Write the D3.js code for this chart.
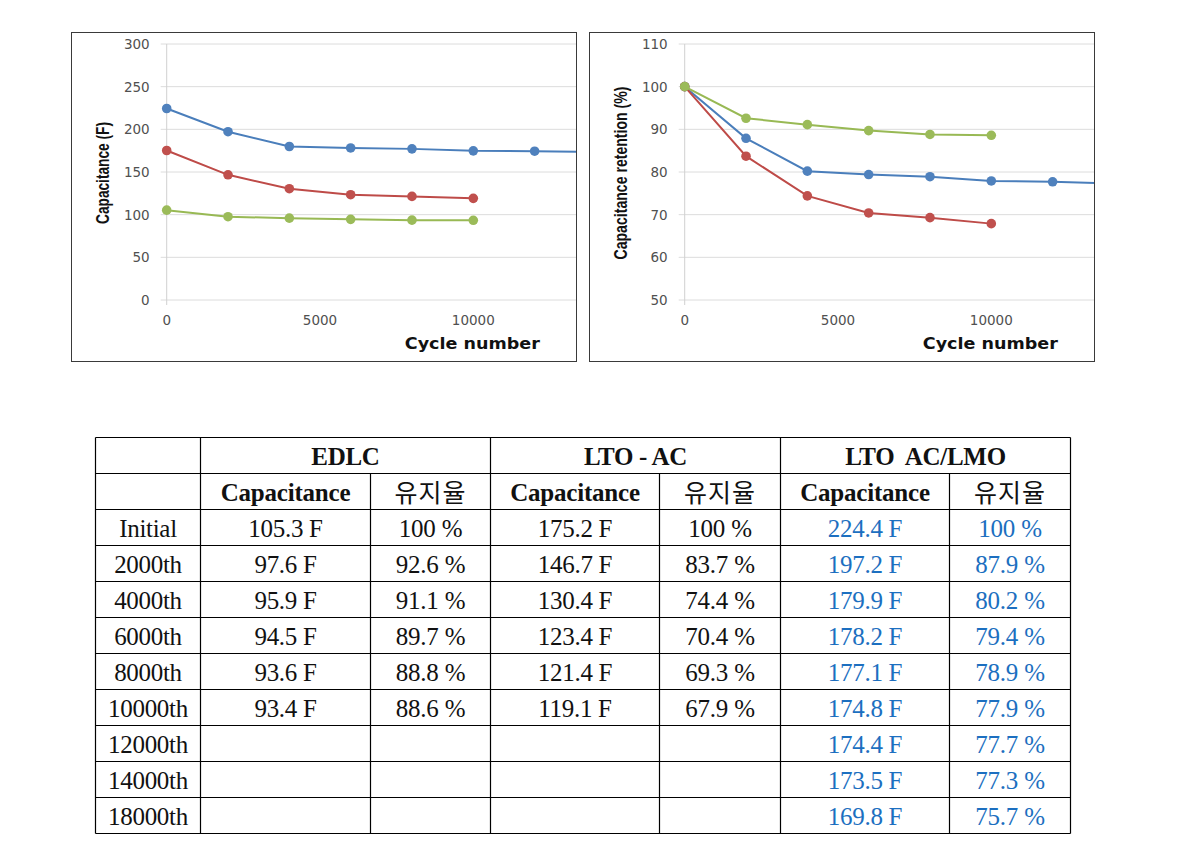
<!DOCTYPE html>
<html>
<head>
<meta charset="utf-8">
<script src="https://cdn.jsdelivr.net/npm/d3@7"></script>
<style>
  html, body { margin: 0; padding: 0; background: #ffffff; }
  svg { display: block; }
</style>
</head>
<body>
<svg id="root" width="1202" height="864"></svg>
<script>
// ---------------- DATA ----------------
const cycles = [0, 2000, 4000, 6000, 8000, 10000, 12000, 14000, 18000];
const rowLabels = ["Initial", "2000th", "4000th", "6000th", "8000th", "10000th", "12000th", "14000th", "18000th"];
const seriesNames = ["EDLC", "LTO - AC", "LTO  AC/LMO"];
const edlcCap = [105.3, 97.6, 95.9, 94.5, 93.6, 93.4];
const edlcRet = [100, 92.6, 91.1, 89.7, 88.8, 88.6];
const ltoCap = [175.2, 146.7, 130.4, 123.4, 121.4, 119.1];
const ltoRet = [100, 83.7, 74.4, 70.4, 69.3, 67.9];
const lmoCap = [224.4, 197.2, 179.9, 178.2, 177.1, 174.8, 174.4, 173.5, 169.8];
const lmoRet = [100, 87.9, 80.2, 79.4, 78.9, 77.9, 77.7, 77.3, 75.7];
const xTicks = [0, 5000, 10000];
const capTicks = [0, 50, 100, 150, 200, 250, 300];
const retTicks = [50, 60, 70, 80, 90, 100, 110];
const subHeaders = ["Capacitance", "유지율"];

const colors = {
  edlc: { line: "#98b954", mark: "#9bbb59" },
  lto: { line: "#be4b48", mark: "#c0504d" },
  lmo: { line: "#4a7ebb", mark: "#4f81bd" }
};

const svg = d3.select("#root");

// ---------------- CHARTS ----------------
function drawChart(opts) {
  const g = svg.append("g");
  const fx = opts.frame;
  const clipId = "clip" + opts.id;
  svg.append("defs").append("clipPath").attr("id", clipId)
    .append("rect").attr("x", fx.x0).attr("y", fx.y0).attr("width", fx.x1 - fx.x0).attr("height", fx.y1 - fx.y0);

  const x = d3.scaleLinear().domain([0, 10000]).range([opts.x0, opts.x0 + 306.6]);
  const y = d3.scaleLinear().domain(opts.yDomain).range([300, 44]);

  // gridlines
  const grid = g.append("g").attr("clip-path", `url(#${clipId})`);
  grid.selectAll("line.h").data(opts.yTicks).enter().append("line")
    .attr("x1", opts.x0 - 6).attr("x2", fx.x1)
    .attr("y1", d => y(d)).attr("y2", d => y(d))
    .attr("stroke", "#dcdcdc").attr("stroke-width", 1);
  grid.append("line")
    .attr("x1", x(0)).attr("x2", x(0)).attr("y1", y(opts.yDomain[1])).attr("y2", y(opts.yDomain[0]) + 5)
    .attr("stroke", "#d0d0d0").attr("stroke-width", 1);

  // y tick labels
  g.selectAll("text.yt").data(opts.yTicks).enter().append("text")
    .attr("x", x(0) - 17).attr("y", d => y(d))
    .attr("dy", "0.36em").attr("text-anchor", "end")
    .attr("font-family", "DejaVu Sans").attr("font-size", 13.5).attr("fill", "#505050")
    .text(d => d);
  // x tick labels
  g.selectAll("text.xt").data(xTicks).enter().append("text")
    .attr("x", d => x(d)).attr("y", 320)
    .attr("dy", "0.36em").attr("text-anchor", "middle")
    .attr("font-family", "DejaVu Sans").attr("font-size", 13.5).attr("fill", "#505050")
    .text(d => d);

  // axis titles
  g.append("text").attr("x", x(10000) - 1).attr("y", 343).attr("dy", "0.36em")
    .attr("text-anchor", "middle").attr("font-family", "DejaVu Sans").attr("font-weight", "bold")
    .attr("font-size", 16).attr("fill", "#111").attr("textLength", 135).attr("lengthAdjust", "spacingAndGlyphs")
    .text("Cycle number");
  g.append("text")
    .attr("transform", `translate(${fx.x0 + 31},${173}) rotate(-90)`)
    .attr("text-anchor", "middle").attr("dy", "0.36em")
    .attr("font-family", "Liberation Sans").attr("font-weight", "bold")
    .attr("font-size", 18).attr("fill", "#111")
    .attr("textLength", opts.titleLen).attr("lengthAdjust", "spacingAndGlyphs")
    .text(opts.yTitle);

  // series
  const plot = g.append("g").attr("clip-path", `url(#${clipId})`);
  const line = d3.line().x(d => x(d[0])).y(d => y(d[1]));
  opts.series.forEach(s => {
    const pts = s.values.map((v, i) => [cycles[i], v]);
    plot.append("path").datum(pts).attr("d", line)
      .attr("fill", "none").attr("stroke", s.color.line).attr("stroke-width", 2);
    plot.selectAll(null).data(pts).enter().append("circle")
      .attr("cx", d => x(d[0])).attr("cy", d => y(d[1])).attr("r", 4.8)
      .attr("fill", s.color.mark);
  });

  // frame
  svg.append("rect").attr("x", fx.x0).attr("y", fx.y0).attr("width", fx.x1 - fx.x0).attr("height", fx.y1 - fx.y0)
    .attr("fill", "none").attr("stroke", "#3a3a3a").attr("stroke-width", 1);
}

drawChart({
  id: "A", frame: { x0: 71.5, y0: 32.5, x1: 576.5, y1: 361.5 }, x0: 166.7,
  yDomain: [0, 300], yTicks: capTicks, yTitle: "Capacitance (F)", titleLen: 102,
  series: [
    { values: lmoCap, color: colors.lmo },
    { values: ltoCap, color: colors.lto },
    { values: edlcCap, color: colors.edlc }
  ]
});
drawChart({
  id: "B", frame: { x0: 589.5, y0: 32.5, x1: 1094.5, y1: 361.5 }, x0: 684.7,
  yDomain: [50, 110], yTicks: retTicks, yTitle: "Capacitance retention (%)", titleLen: 173,
  series: [
    { values: lmoRet, color: colors.lmo },
    { values: ltoRet, color: colors.lto },
    { values: edlcRet, color: colors.edlc }
  ]
});

// ---------------- TABLE ----------------
const colEdges = [95.5, 200.5, 370.5, 490.5, 659.5, 780.5, 949.5, 1070.5];
const tblTop = 437.5, rowH = 36;
const nRows = 2 + rowLabels.length;
const tbl = svg.append("g");
const serif = "Liberation Serif";
const textBlack = "#111111", textBlue = "#1c6fc0";

function cell(col0, col1, row, txt, o) {
  o = o || {};
  tbl.append("text")
    .attr("x", (colEdges[col0] + colEdges[col1]) / 2)
    .attr("y", tblTop + row * rowH + (o.base || 27))
    .attr("text-anchor", "middle")
    .attr("font-family", o.font || serif)
    .attr("font-size", o.size || 25)
    .attr("font-weight", o.bold ? "bold" : "normal")
    .attr("fill", o.color || textBlack)
    .attr("letter-spacing", o.ls || 0)
    .style("white-space", "pre")
    .text(txt);
}

// headers
seriesNames.forEach((n, i) => cell(1 + 2 * i, 3 + 2 * i, 0, n, { bold: true, ls: -0.3 }));
for (let i = 0; i < 3; i++) {
  cell(1 + 2 * i, 2 + 2 * i, 1, subHeaders[0], { bold: true, ls: -0.2 });
  cell(2 + 2 * i, 3 + 2 * i, 1, subHeaders[1], { font: "Noto Sans CJK KR", size: 25, ls: 1, base: 28 });
}
const fmtCap = v => v.toFixed(1) + " F";
const fmtRet = v => (v === 100 ? "100" : v.toFixed(1)) + " %";
rowLabels.forEach((lab, r) => {
  cell(0, 1, r + 2, lab, { ls: -0.3 });
  const cols = [
    [edlcCap, edlcRet, textBlack],
    [ltoCap, ltoRet, textBlack],
    [lmoCap, lmoRet, textBlue]
  ];
  cols.forEach((c, i) => {
    if (r < c[0].length) {
      cell(1 + 2 * i, 2 + 2 * i, r + 2, fmtCap(c[0][r]), { color: c[2], ls: -0.3 });
      cell(2 + 2 * i, 3 + 2 * i, r + 2, fmtRet(c[1][r]), { color: c[2], ls: -0.2 });
    }
  });
});

// grid lines of table
const tblBottom = tblTop + nRows * rowH;
const hl = d3.range(nRows + 1);
tbl.selectAll("line.h").data(hl).enter().append("line")
  .attr("x1", colEdges[0]).attr("x2", colEdges[7])
  .attr("y1", d => tblTop + d * rowH).attr("y2", d => tblTop + d * rowH)
  .attr("stroke", "#000").attr("stroke-width", 1.2);
colEdges.forEach((cx, i) => {
  const y0 = (i === 2 || i === 4 || i === 6) ? tblTop + rowH : tblTop;
  tbl.append("line").attr("x1", cx).attr("x2", cx).attr("y1", y0).attr("y2", tblBottom)
    .attr("stroke", "#000").attr("stroke-width", 1.2);
});
</script>
</body>
</html>
